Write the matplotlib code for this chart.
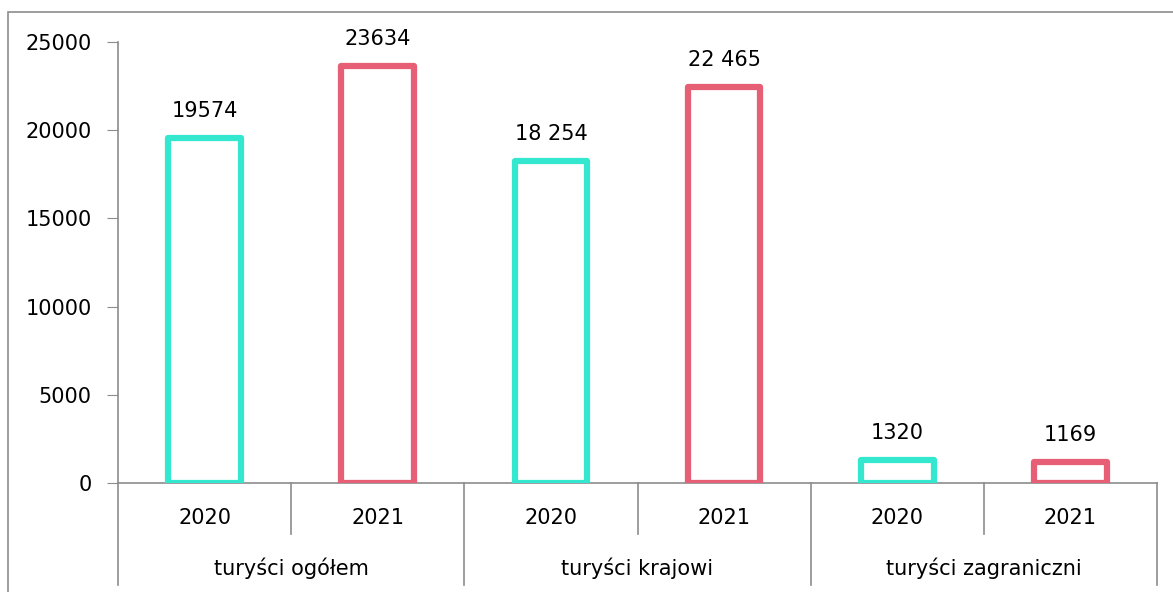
import numpy as np
import matplotlib.pyplot as plt
from matplotlib.patches import Rectangle

plt.rcParams['font.family'] = ['DejaVu Sans']

groups = ['turyści ogółem', 'turyści krajowi', 'turyści zagraniczni']
years = ['2020', '2021', '2020', '2021', '2020', '2021']
values = [19574, 23634, 18254, 22465, 1320, 1169]
labels = ['19574', '23634', '18 254', '22 465', '1320', '1169']
colors = ['#33E8CF', '#E65F74', '#33E8CF', '#E65F74', '#33E8CF', '#E65F74']

W, H = 1173, 592
fig = plt.figure(figsize=(W / 100, H / 100), dpi=100)

# outer frame (cut off at right/bottom like the reference)
fig.patches.append(Rectangle((8 / W, -0.1), 1.2, (H - 12) / H + 0.1, transform=fig.transFigure,
                             fill=False, edgecolor='#8c8c8c', lw=1.2))

x0, x1, ytop, ybot = 118, 1157, 42, 483
ax = fig.add_axes([x0 / W, 1 - ybot / H, (x1 - x0) / W, (ybot - ytop) / H])
ax.set_xlim(0, 6)
ax.set_ylim(0, 25000)

x = np.arange(len(values)) + 0.5
ax.bar(x, values, width=0.42, fill=False, edgecolor=colors, linewidth=4.5,
       joinstyle='round', zorder=3)

fs = 15
for xi, v, t in zip(x, values, labels):
    ax.annotate(t, (xi, v), xytext=(0, 17), textcoords='offset pixels',
                ha='center', va='bottom', fontsize=fs)

ax.set_yticks(np.arange(0, 25001, 5000))
ax.tick_params(axis='y', length=8, color='#8c8c8c', labelsize=fs, pad=11)
ax.set_xticks([])
for s in ['top', 'right']:
    ax.spines[s].set_visible(False)
for s in ['left', 'bottom']:
    ax.spines[s].set_color('#8c8c8c')
    ax.spines[s].set_linewidth(1.2)

# multi-level category axis
h = ybot - ytop
short = 51 / h
long_ = 102 / h
for xi in [1, 3, 5]:
    ax.plot([xi, xi], [0, -short], transform=ax.get_xaxis_transform(),
            color='#8c8c8c', lw=1.2, clip_on=False)
for xi in [0, 2, 4, 6]:
    ax.plot([xi, xi], [0, -long_], transform=ax.get_xaxis_transform(),
            color='#8c8c8c', lw=1.2, clip_on=False)

for xi, yr in zip(x, years):
    ax.text(xi, -35 / h, yr, transform=ax.get_xaxis_transform(),
            ha='center', va='center', fontsize=fs)
for i, g in enumerate(groups):
    ax.text(2 * i + 1, -85 / h, g, transform=ax.get_xaxis_transform(),
            ha='center', va='center', fontsize=fs)

fig.savefig('out.png', dpi=100)
